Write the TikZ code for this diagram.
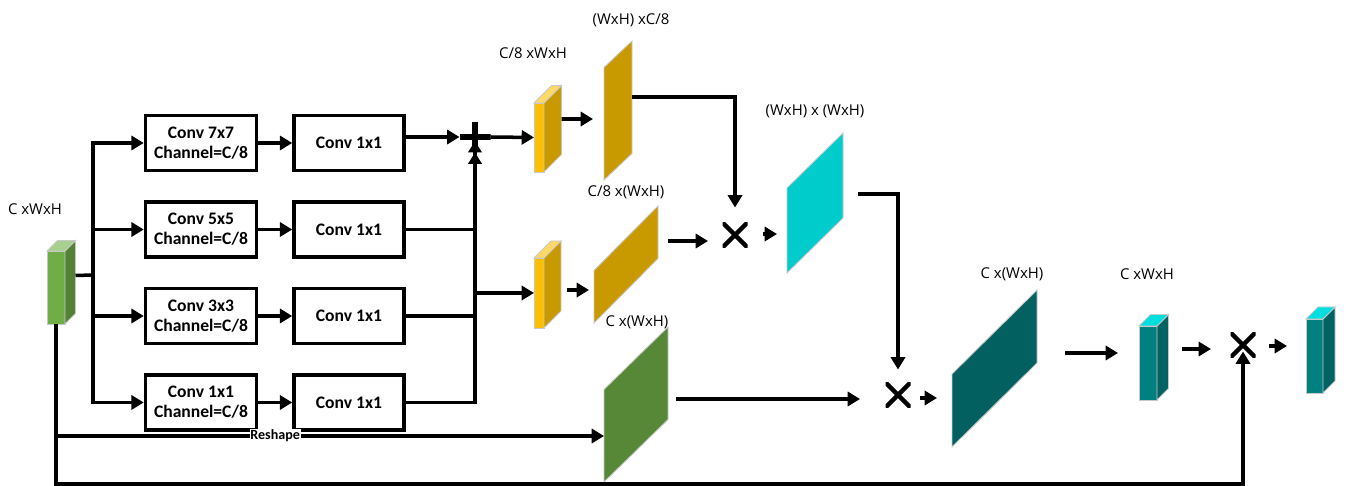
\documentclass[tikz,border=0pt]{standalone}
\usepackage{fontspec}
\setmainfont{Carlito}
\newfontfamily\dimfont{Open Sans}
\usepackage{tikz}
\usetikzlibrary{positioning,arrows.meta,calc}
\definecolor{grnF}{HTML}{70AD47}
\definecolor{grnS}{HTML}{548235}
\definecolor{grnT}{HTML}{A9D18E}
\definecolor{grnD}{HTML}{578837}
\definecolor{gldF}{HTML}{FFC000}
\definecolor{gldS}{HTML}{C99A00}
\definecolor{gldT}{HTML}{FFD966}
\definecolor{cyn}{HTML}{00CCCC}
\definecolor{tealF}{HTML}{008080}
\definecolor{tealS}{HTML}{006363}
\definecolor{tealT}{HTML}{00DEDE}
\definecolor{tealD}{HTML}{036060}
\definecolor{edge}{HTML}{C8C8C8}
\tikzset{
  blk/.style={draw=black, line width=2pt, minimum height=1.1cm, inner sep=1pt,
              align=center, font=\bfseries\fontsize{10}{11.5}\selectfont},
  conv/.style={blk, minimum width=2.22cm},
  pw/.style={blk, minimum width=2.2cm},
  ln/.style={line width=2pt},
  ar/.style={ln, -{Triangle[length=7pt,width=8pt]}},
  ar2/.style={ln, -{Triangle[length=6.5pt,width=7.5pt]Triangle[length=6.5pt,width=7.5pt]}},
  mul/.style={minimum size=0.5cm, inner sep=0pt, outer sep=0pt,
              path picture={\draw[line width=2.6pt]
                (path picture bounding box.north west) -- (path picture bounding box.south east)
                (path picture bounding box.north east) -- (path picture bounding box.south west);}},
  pls/.style={minimum size=0.62cm, inner sep=0pt, outer sep=0pt,
              path picture={\draw[line width=3.2pt]
                (path picture bounding box.north) -- (path picture bounding box.south)
                (path picture bounding box.west) -- (path picture bounding box.east);}},
  dim/.style={font=\dimfont\fontsize{8.5}{10}\selectfont, inner sep=1pt},
  rlbl/.style={font=\bfseries\fontsize{8}{9}\selectfont, fill=white, inner sep=0.5pt},
  cubebox/.style={draw=edge, line width=0.5pt, inner sep=0pt, outer sep=0pt},
  slabbox/.style={inner sep=0pt, outer sep=0pt},
}
% name, centre, width, height, depth, front, side, top
\newcommand{\featcube}[8]{%
  \node[cubebox, fill=#6, minimum width=#3*0.02cm, minimum height=#4*0.02cm] (#1) at (#2) {};
  \filldraw[fill=#7, draw=edge, line width=0.5pt] (#1.north east) -- ++(#5,-#5) -- ++(0,#4) -- (#1.south east) -- cycle;
  \filldraw[fill=#8, draw=edge, line width=0.5pt] (#1.north west) -- ++(#5,-#5) -- ++(#3,0) -- (#1.north east) -- cycle;
}
% name, centre, width, height, lean, colour
\newcommand{\featslab}[6]{%
  \node[slabbox, minimum width=#3*0.02cm, minimum height=#4*0.02cm] (#1) at (#2) {};
  \filldraw[fill=#6, draw=edge, line width=0.5pt] (#1.south west) -- ++(0,{#5-#4}) -- (#1.north east) -- ++(0,{#4-#5}) -- cycle;
}

\begin{document}
\begin{tikzpicture}[x=0.02cm, y=-0.02cm]
\useasboundingbox (0,0) rectangle (1346,486);

% --- input and multi-scale branches ---
\featcube{in}{56,287.5}{18}{73}{10.5}{grnF}{grnS}{grnT}
\node[dim] at (35,209) {C xWxH};
\coordinate (tr) at (93,275);
\node[conv] (c1) at (201,143) {Conv 7x7\\Channel=C/8};
\node[conv] (c2) [below=0.56cm of c1] {Conv 5x5\\Channel=C/8};
\node[conv] (c3) [below=0.56cm of c2] {Conv 3x3\\Channel=C/8};
\node[conv] (c4) [below=0.56cm of c3] {Conv 1x1\\Channel=C/8};
\node[pw] (o1) [right=0.68cm of c1] {Conv 1x1};
\node[pw] (o2) [right=0.68cm of c2] {Conv 1x1};
\node[pw] (o3) [right=0.68cm of c3] {Conv 1x1};
\node[pw] (o4) [right=0.68cm of c4] {Conv 1x1};
\draw[ln] ([shift={(10.5,-12)}]in.east) -- (tr);
\foreach \k in {1,...,4} {
  \draw[ar] (tr) |- (c\k.west);
  \draw[ar] (c\k) -- (o\k);
}
\node[pls] (pl) at (475,137) {};
\draw[ar] (o1.east |- pl) -- (pl.west);
\draw[ln] (o2.east) -- (o2.east -| pl);
\draw[ln] (o3.east) -- (o3.east -| pl);
\draw[ar2] (o4.east) -| ([shift={(0,4)}]pl.center);

% --- query / key ---
\featcube{yc1}{539,137.5}{10}{69}{17.5}{gldF}{gldS}{gldT}
\featcube{yc2}{539,293}{10}{70}{17}{gldF}{gldS}{gldT}
\node[dim] at (533,53) {C/8 xWxH};
\draw[ar] (pl.east) -- (yc1.west);
\draw[ar] (yc2.west -| pl) -- (yc2.west);
\featslab{pg1}{618,110.5}{28}{139}{26.5}{gldS}
\featslab{pg2}{626,264.5}{64}{117}{64.5}{gldS}
\node[dim] at (631,20) {(WxH) xC/8};
\node[dim] at (626,192) {C/8 x(WxH)};
\draw[ar] ([shift={(17.5,-18.5)}]yc1.east) -- ([shift={(-11,8.5)}]pg1.west);
\draw[ar] ([shift={(23,-3)}]yc2.east) -- ([shift={(-5,25.5)}]pg2.west);

% --- attention map ---
\node[mul] (m1) at (735,235) {};
\draw[ar] ([shift={(0,-13.5)}]pg1.east) -| ([shift={(0,-15)}]m1.north);
\draw[ar] ([shift={(10,-23.5)}]pg2.east) -- ([shift={(-14.5,6)}]m1.west);
\featslab{att}{815,203}{56}{140}{55}{cyn}
\node[dim] at (815,111) {(WxH) x (WxH)};
\draw[ar] ([shift={(15.5,-1)}]m1.east) -- ([shift={(-10,31)}]att.west);

% --- value and output ---
\featslab{val}{636,404.5}{64}{155}{62.5}{grnD}
\node[dim] at (637,322) {C x(WxH)};
\coordinate (rs) at (56,436);
\draw[ar] (rs) -- (rs -| val.west) node[rlbl, pos=0.4] {Reshape};
\node[mul] (m2) at (898,395) {};
\draw[ar] ([shift={(15,-9)}]att.east) -| ([shift={(0,-13)}]m2.north);
\draw[ar] ([shift={(8,-5.5)}]val.east) -- ([shift={(-25.5,4)}]m2.west);
\featslab{outp}{994.5,368.5}{85}{157}{84}{tealD}
\node[dim] at (1012,274) {C x(WxH)};
\draw[ar] ([shift={(9.5,3)}]m2.east) -- ([shift={(-15,29.5)}]outp.west);
\featcube{tc1}{1148,363}{18}{74}{11.5}{tealF}{tealS}{tealT}
\node[dim] at (1147,274) {C xWxH};
\draw[ar] ([shift={(28,-15.5)}]outp.east) -- ([shift={(-21,-10)}]tc1.west);
\node[mul] (m3) at (1243,345) {};
\draw[ar] ([shift={(25,-14)}]tc1.east) -- ([shift={(-19.5,4)}]m3.west);
\featcube{tc2}{1314.5,356}{17}{74}{12}{tealF}{tealS}{tealT}
\draw[ar] ([shift={(13.5,1)}]m3.east) -- ([shift={(-19,-10)}]tc2.west);
\coordinate (bot) at (0,484);
\draw[ar] (in.south) -- (in.south |- bot) -| ([shift={(0,-6)}]m3.south);

\end{tikzpicture}
\end{document}
